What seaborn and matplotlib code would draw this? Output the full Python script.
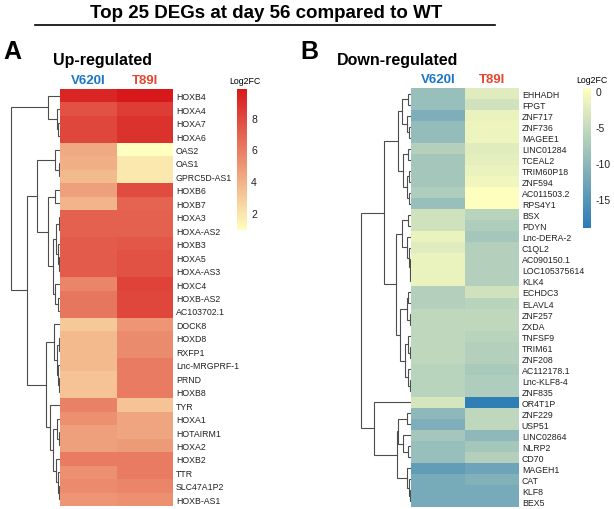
import numpy as np
import pandas as pd
import seaborn as sns
import matplotlib.pyplot as plt
from matplotlib.colors import LinearSegmentedColormap

# ---- data ----
samples = ["V620I", "T89I"]

up_genes = ["HOXB4", "HOXA4", "HOXA7", "HOXA6", "OAS2", "OAS1", "GPRC5D-AS1",
            "HOXB6", "HOXB7", "HOXA3", "HOXA-AS2", "HOXB3", "HOXA5", "HOXA-AS3",
            "HOXC4", "HOXB-AS2", "AC103702.1", "DOCK8", "HOXD8", "RXFP1",
            "Lnc-MRGPRF-1", "PRND", "HOXB8", "TYR", "HOXA1", "HOTAIRM1", "HOXA2",
            "HOXB2", "TTR", "SLC47A1P2", "HOXB-AS1"]
up_v620i = [9.3, 7.6, 8.0, 8.0, 4.2, 4.0, 3.6, 4.6, 3.8, 7.0, 7.0, 7.2, 7.2, 7.2,
            5.6, 6.2, 6.2, 3.0, 3.6, 3.6, 3.6, 3.2, 3.2, 5.8, 5.2, 4.6, 4.6,
            6.0, 5.2, 5.4, 5.0]
up_t89i = [9.8, 8.4, 8.8, 8.8, 0.9, 1.8, 1.8, 7.8, 6.9, 7.0, 7.0, 7.4, 7.6, 7.6,
           8.2, 8.0, 8.0, 5.0, 5.4, 5.4, 6.0, 6.0, 6.0, 3.2, 4.4, 4.4, 4.8,
           6.0, 6.0, 5.6, 5.2]

down_genes = ["EHHADH", "FPGT", "ZNF717", "ZNF736", "MAGEE1", "LINC01284", "TCEAL2",
              "TRIM60P18", "ZNF594", "AC011503.2", "RPS4Y1", "BSX", "PDYN",
              "Lnc-DERA-2", "C1QL2", "AC090150.1", "LOC105375614", "KLK4", "ECHDC3",
              "ELAVL4", "ZNF257", "ZXDA", "TNFSF9", "TRIM61", "ZNF208", "AC112178.1",
              "Lnc-KLF8-4", "ZNF835", "OR4T1P", "ZNF229", "USP51", "LINC02864",
              "NLRP2", "CD70", "MAGEH1", "CAT", "KLF8", "BEX5"]
down_v620i = [-9.0, -9.0, -11.5, -9.5, -9.5, -6.5, -8.0, -8.0, -8.0, -7.0, -9.0,
              -4.0, -4.0, -1.5, -2.5, -1.5, -1.5, -1.5, -6.5, -6.5, -5.5, -5.5,
              -5.5, -5.5, -5.5, -6.0, -6.0, -6.0, -3.5, -10.0, -11.5, -8.0, -9.0,
              -9.0, -14.0, -12.0, -12.0, -12.0]
down_t89i = [-2.5, -4.0, -1.5, -1.2, -1.2, -2.5, -2.0, -1.5, -1.0, 0.3, 0.3,
             -6.0, -7.0, -8.0, -6.5, -6.5, -6.5, -6.5, -4.0, -6.0, -5.5, -5.5,
             -6.0, -6.5, -6.5, -7.5, -7.0, -7.0, -18.6, -5.5, -5.5, -10.0, -8.0,
             -6.5, -13.0, -11.0, -12.0, -12.0]

# row dendrograms: (left, right, merge height), leaves are row indices
up_tree = ((0, (1, (2, 3, 2), 3), 12),
           (((4, (5, 6, 1.5), 5),
             ((7, 8, 5),
              ((((9, 10, 1.5), (11, (12, 13, 1), 2), 4),
                (14, (15, 16, 2), 5), 7)), 12), 23),
            ((17, ((18, 19, 1.5), (20, (21, 22, 1), 2.5), 3.5), 6),
             (23, ((24, (25, 26, 1.5), 3), (27, (28, (29, 30, 1), 2), 4), 7), 10), 14),
            33), 49)

down_tree = (((((0, 1, 3), (2, (3, 4, 2), 4), 9),
               ((5, 6, 3), ((7, 8, 2.5), (9, 10, 2), 4), 8), 13),
              (((11, 12, 3), (13, (14, (15, (16, 17, 1), 1.5), 2.5), 4), 9),
               (((18, 19, 3), (20, 21, 1), 4),
                ((22, (23, 24, 1), 3), (25, (26, 27, 1), 3), 6), 11), 15), 27),
             (28, (((29, 30, 4), (31, (32, 33, 3), 8), 13),
                   (34, (35, (36, 37, 1), 2), 4), 14), 37), 50)


def draw_tree(ax, node, color="#4d4d4d"):
    # returns (y center, height) of node
    if isinstance(node, int):
        return node + 0.5, 0.0
    left, right, h = node
    y1, h1 = draw_tree(ax, left, color)
    y2, h2 = draw_tree(ax, right, color)
    ax.plot([h1, h, h, h2], [y1, y1, y2, y2], color=color, lw=0.8,
            solid_joinstyle="miter")
    return (y1 + y2) / 2, h


plt.rcParams["font.family"] = ["Liberation Sans", "DejaVu Sans"]
plt.rcParams["axes.unicode_minus"] = False
fig = plt.figure(figsize=(6.14, 5.10), dpi=100)
W, H = 614.0, 510.0


def box(x0, y0, x1, y1):
    return [x0 / W, 1 - y1 / H, (x1 - x0) / W, (y1 - y0) / H]


up_cmap = LinearSegmentedColormap.from_list("up", ["#FFFFBF", "#D7191C"])
down_cmap = LinearSegmentedColormap.from_list("down", ["#2C7BB6", "#FFFFBF"])

panels = [
    dict(genes=up_genes, v=up_v620i, t=up_t89i, tree=up_tree, cmap=up_cmap,
         hm=(60, 90, 173, 507), dg=(8, 90, 60, 507), cb=(237, 90, 247, 231),
         ticks=[2, 4, 6, 8], dmax=52, vmin=None, vmax=None),
    dict(genes=down_genes, v=down_v620i, t=down_t89i, tree=down_tree, cmap=down_cmap,
         hm=(411, 89, 519, 508), dg=(358, 89, 411, 508), cb=(583, 89, 591, 229),
         ticks=[0, -5, -10, -15], dmax=53, vmin=-19.0, vmax=0.4),
]

for p in panels:
    df = pd.DataFrame({samples[0]: p["v"], samples[1]: p["t"]}, index=p["genes"])
    ax = fig.add_axes(box(*p["hm"]))
    cax = fig.add_axes(box(*p["cb"]))
    sns.heatmap(df, ax=ax, cmap=p["cmap"], cbar_ax=cax, linewidths=0,
                vmin=p["vmin"], vmax=p["vmax"],
                xticklabels=True, yticklabels=True)
    ax.yaxis.tick_right()
    ax.set_yticklabels(p["genes"], rotation=0, fontsize=6.3, color="#222222")
    ax.xaxis.tick_top()
    ax.set_xticklabels(samples, fontsize=9.5, fontweight="bold")
    for lab, c in zip(ax.get_xticklabels(), ["#1a75c9", "#e8452c"]):
        lab.set_color(c)
    ax.tick_params(length=0, pad=2)
    ax.set_xlabel("")
    ax.set_ylabel("")

    cax.set_yticks(p["ticks"])
    cax.tick_params(length=0, labelsize=7.5, pad=3, labelcolor="#222222")
    for sp in cax.spines.values():
        sp.set_visible(False)
    cax.set_title("Log2FC", fontsize=6.3, loc="left", pad=4, x=-0.8)

    dax = fig.add_axes(box(*p["dg"]))
    draw_tree(dax, p["tree"])
    dax.set_ylim(len(p["genes"]), 0)
    dax.set_xlim(p["dmax"], 0)
    dax.axis("off")

fig.text(266 / W, 1 - 13 / H, "Top 25 DEGs at day 56 compared to WT",
         ha="center", va="center", fontsize=13.5, fontweight="bold")
fig.add_artist(plt.Line2D([35 / W, 495 / W], [1 - 26 / H, 1 - 26 / H],
                          color="black", lw=1.2))
fig.text(3 / W, 1 - 52 / H, "A", ha="left", va="center", fontsize=18, fontweight="bold")
fig.text(53 / W, 1 - 61 / H, "Up-regulated", ha="left", va="center", fontsize=11.5,
         fontweight="bold")
fig.text(300 / W, 1 - 52 / H, "B", ha="left", va="center", fontsize=18, fontweight="bold")
fig.text(337 / W, 1 - 61 / H, "Down-regulated", ha="left", va="center", fontsize=11.5,
         fontweight="bold")

fig.savefig("out.png", dpi=100)
